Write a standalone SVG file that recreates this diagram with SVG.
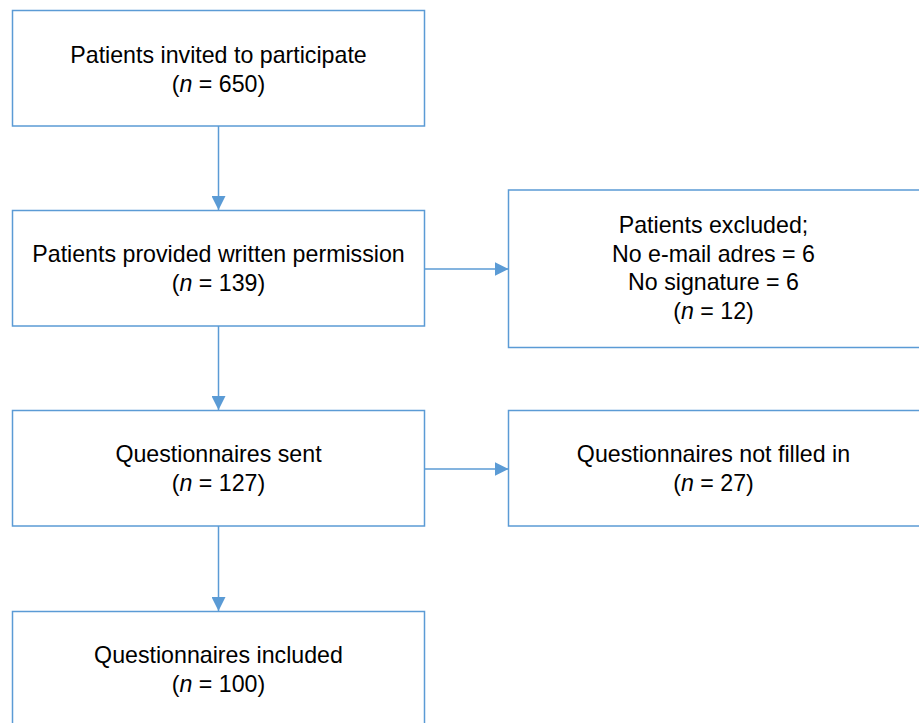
<svg xmlns="http://www.w3.org/2000/svg" width="919" height="723" viewBox="0 0 919 723">
<defs>
<marker id="ah" markerWidth="14" markerHeight="14" viewBox="0 0 14 14" refX="14" refY="7" orient="auto" markerUnits="userSpaceOnUse">
<path d="M0,0 L14,7 L0,14 Z" fill="#5b9bd5"/>
</marker>
</defs>
<style>
.box{fill:#fff;stroke:#5b9bd5;stroke-width:1.5}
.t{font-family:"Liberation Sans",Arial,sans-serif;font-size:23.2px;fill:#000;text-anchor:middle}
.c{stroke:#5b9bd5;stroke-width:1.5;fill:none;marker-end:url(#ah)}
</style>
<rect width="919" height="723" fill="#fff"/>
<g id="connectors">
<line class="c" x1="218.5" y1="126" x2="218.5" y2="210"/>
<line class="c" x1="218.5" y1="326" x2="218.5" y2="410"/>
<line class="c" x1="218.5" y1="526" x2="218.5" y2="611"/>
<line class="c" x1="424.5" y1="269" x2="508.5" y2="269"/>
<line class="c" x1="424.5" y1="469" x2="508.5" y2="469"/>
</g>
<g id="n1">
<rect class="box" x="12.5" y="10.5" width="412" height="115.5"/>
<text class="t" x="218.5" y="62.5">Patients invited to participate</text>
<text class="t" x="218.5" y="92">(<tspan font-style="italic">n</tspan> = 650)</text>
</g>
<g id="n2">
<rect class="box" x="12.5" y="210.5" width="412" height="115.5"/>
<text class="t" x="218.5" y="262">Patients provided written permission</text>
<text class="t" x="218.5" y="291">(<tspan font-style="italic">n</tspan> = 139)</text>
</g>
<g id="n3">
<rect class="box" x="508.5" y="190" width="420" height="157.5"/>
<text class="t" x="713.5" y="233">Patients excluded;</text>
<text class="t" x="713.5" y="261.5">No e-mail adres = 6</text>
<text class="t" x="713.5" y="290">No signature = 6</text>
<text class="t" x="713.5" y="318.5">(<tspan font-style="italic">n</tspan> = 12)</text>
</g>
<g id="n4">
<rect class="box" x="12.5" y="410.5" width="412" height="115.5"/>
<text class="t" x="218.5" y="462">Questionnaires sent</text>
<text class="t" x="218.5" y="491">(<tspan font-style="italic">n</tspan> = 127)</text>
</g>
<g id="n5">
<rect class="box" x="508.5" y="410.5" width="420" height="115.5"/>
<text class="t" x="713.5" y="462">Questionnaires not filled in</text>
<text class="t" x="713.5" y="491">(<tspan font-style="italic">n</tspan> = 27)</text>
</g>
<g id="n6">
<rect class="box" x="12.5" y="611.5" width="412" height="120"/>
<text class="t" x="218.5" y="662.5">Questionnaires included</text>
<text class="t" x="218.5" y="691.5">(<tspan font-style="italic">n</tspan> = 100)</text>
</g>
</svg>
